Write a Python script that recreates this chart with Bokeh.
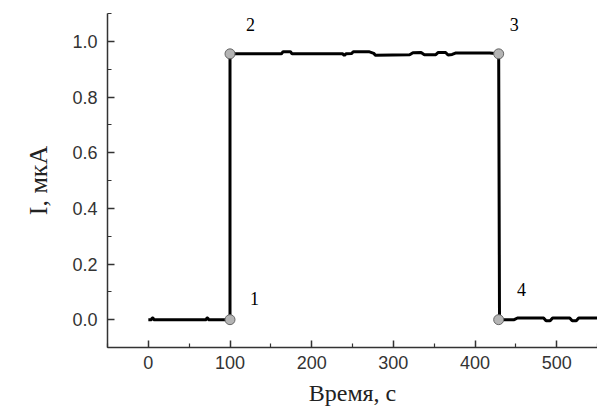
from bokeh.plotting import figure
from bokeh.embed import file_html
from bokeh.resources import INLINE
from bokeh.models import Range1d, FixedTicker, NumeralTickFormatter, ColumnDataSource
from bokeh.core.properties import value

# measured current trace (time, s ; current, uA)
time_s = [0, 4, 4.5, 6, 6.5, 71, 71.5, 73, 73.5, 100,
          100, 163, 165, 174, 176, 238, 240, 242, 249, 251, 270, 276, 278,
          320, 324, 334, 338, 352, 355, 364, 367, 372, 376, 418, 428,
          429, 430, 448, 452, 484, 487, 492, 495, 516, 519, 524, 527, 550]
current_ua = [0.0, 0.0, 0.006, 0.006, 0.0, 0.0, 0.006, 0.006, 0.0, 0.0,
              0.955, 0.955, 0.963, 0.963, 0.955, 0.955, 0.949, 0.955, 0.956, 0.963, 0.963, 0.957, 0.950,
              0.952, 0.959, 0.960, 0.952, 0.952, 0.960, 0.960, 0.951, 0.953, 0.958, 0.958, 0.955,
              0.955, 0.0, 0.0, 0.006, 0.006, -0.004, -0.004, 0.006, 0.006, -0.004, -0.004, 0.006, 0.006]

# marked points 1-4
mark_t = [100, 100, 429, 429]
mark_i = [0.0, 0.955, 0.955, 0.0]
mark_labels = ["1", "2", "3", "4"]
label_t = [130, 125, 448, 457]
label_i = [0.075, 1.06, 1.06, 0.11]

x_ticks = [0, 100, 200, 300, 400, 500]
y_ticks = [0.0, 0.2, 0.4, 0.6, 0.8, 1.0]

p = figure(width=597, height=408, output_backend="svg", toolbar_location=None,
           x_range=Range1d(-50, 550), y_range=Range1d(-0.1, 1.1),
           min_border_left=107, min_border_right=0, min_border_top=13, min_border_bottom=59)
p.outline_line_color = None
p.grid.visible = False
p.background_fill_color = "white"
p.border_fill_color = "white"

p.line(time_s, current_ua, line_color="black", line_width=3)
p.scatter(mark_t, mark_i, size=10, fill_color="#b4b4b4", line_color="#666666", line_width=1)

src = ColumnDataSource(dict(x=label_t, y=label_i, t=mark_labels))
p.text(x="x", y="y", text="t", source=src, text_font=value("Liberation Serif"),
       text_font_size="18px", text_align="center", text_baseline="middle", text_color="black")

for ax in (p.xaxis[0], p.yaxis[0]):
    ax.axis_line_color = "#333333"
    ax.axis_line_width = 1.5
    ax.major_tick_line_color = "#333333"
    ax.minor_tick_line_color = "#333333"
    ax.major_tick_line_width = 1.5
    ax.minor_tick_line_width = 1.2
    ax.major_tick_in = 7
    ax.major_tick_out = 0
    ax.minor_tick_in = 4
    ax.minor_tick_out = 0
    ax.major_label_text_font = "Liberation Sans"
    ax.major_label_text_font_size = "18px"
    ax.major_label_text_color = "#333333"
    ax.axis_label_text_font = "Liberation Serif"
    ax.axis_label_text_font_style = "normal"
    ax.axis_label_text_color = "#222222"

p.xaxis.ticker = FixedTicker(ticks=x_ticks, minor_ticks=[-50, 50, 150, 250, 350, 450, 550])
p.yaxis.ticker = FixedTicker(ticks=y_ticks, minor_ticks=[-0.1, 0.1, 0.3, 0.5, 0.7, 0.9, 1.1])
p.yaxis.formatter = NumeralTickFormatter(format="0.0")
p.xaxis.axis_label = "Время, с"
p.yaxis.axis_label = "I, мкА"
p.xaxis.axis_label_text_font_size = "24px"
p.yaxis.axis_label_text_font_size = "26px"
p.xaxis.major_label_standoff = 8
p.yaxis.major_label_standoff = 10
p.xaxis.axis_label_standoff = 8
p.yaxis.axis_label_standoff = 16

open("out.html", "w").write(file_html(p, INLINE))
